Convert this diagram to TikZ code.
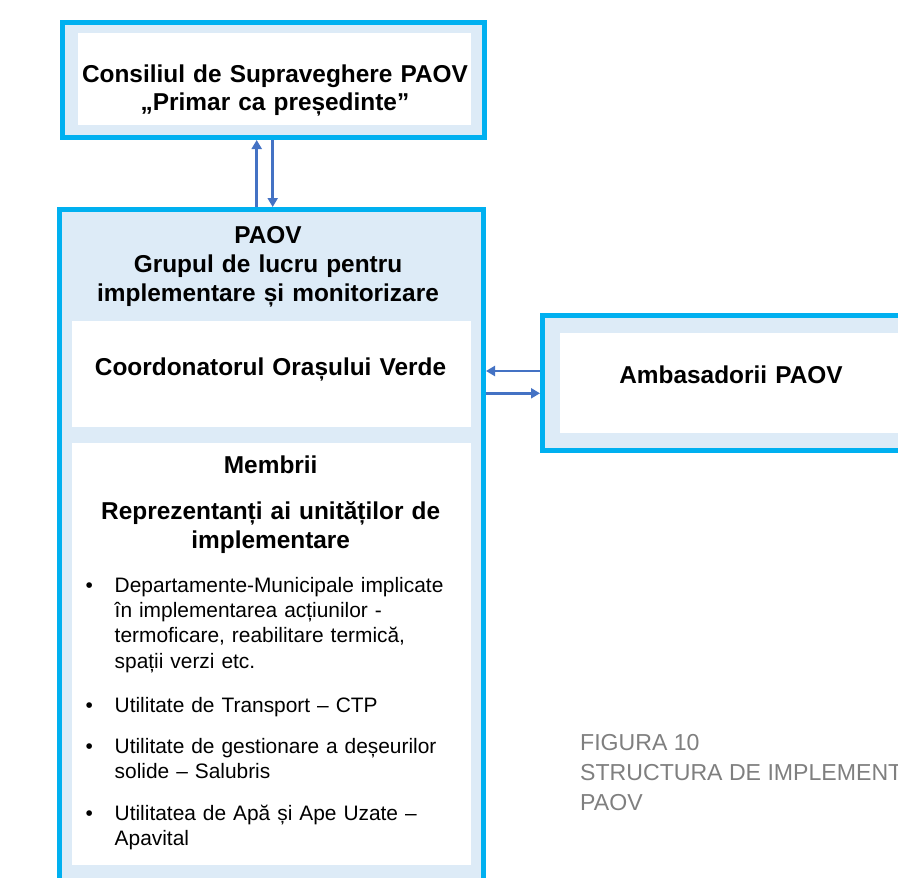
\documentclass[tikz,border=0pt]{standalone}
\usepackage{fontspec}
\setmainfont{Liberation Sans}
\usetikzlibrary{arrows.meta}
\definecolor{cyanb}{HTML}{00B0F0}
\definecolor{lblue}{HTML}{DDEBF7}
\definecolor{arrc}{HTML}{4472C4}
\definecolor{capgray}{HTML}{7F7F7F}
\tikzset{
  outerbox/.style={draw=cyanb, line width=5pt, fill=lblue, inner sep=0pt},
  whitebox/.style={fill=white, draw=none, inner sep=0pt, outer sep=0pt},
  boldtxt/.style={font=\fontsize{24.4}{29}\selectfont\bfseries, text width=440pt, align=center, inner sep=0pt, anchor=base},
  bodytxt/.style={font=\fontsize{20.9}{25.4}\selectfont, text width=360pt, align=left, inner sep=0pt, anchor=base west},
  bul/.style={font=\fontsize{20.9}{25.4}\selectfont, inner sep=0pt, anchor=base},
  captxt/.style={font=\fontsize{23.1}{30}\selectfont, text=capgray, inner sep=0pt, anchor=base west},
  arr/.style={draw=arrc, line width=2.8pt, -{Triangle[length=9pt,width=10pt]}}
}
\begin{document}
\begin{tikzpicture}[x=1pt,y=-1pt]
\useasboundingbox (0,0) rectangle (898,878);
\clip (0,0) rectangle (898,878);
\fill[white] (0,0) rectangle (898,878);

% top box
\node[outerbox, minimum width=422pt, minimum height=115pt] (topbox) at (273.5,80) {};
\node[whitebox, minimum width=393pt, minimum height=92pt] (topin) at (274.5,79) {};
\node[boldtxt, font=\fontsize{24.4}{28}\selectfont\bfseries] (toptxt) at (275,82) {Consiliul de Supraveghere PAOV\\„Primar ca președinte”};

% main box
\node[outerbox, minimum width=424pt, minimum height=690.5pt] (main) at (271.5,554.75) {};
\node[boldtxt] (maintxt) at (268,243.5) {PAOV\\Grupul de lucru pentru\\implementare și monitorizare};
\node[whitebox, minimum width=399pt, minimum height=106pt] (coord) at (271.5,374) {};
\node[boldtxt] (coordtxt) at (270.5,375) {Coordonatorul Orașului Verde};
\node[whitebox, minimum width=399pt, minimum height=422pt] (memb) at (271.5,654) {};
\node[boldtxt] (membtxt) at (270.7,473) {Membrii};
\node[boldtxt] (reptxt) at (270.7,519) {Reprezentanți ai unităților de\\implementare};

\node[bul] (b1) at (89.3,592) {•};
\node[bodytxt] (i1) at (114.5,592) {Departamente-Municipale implicate\\în implementarea acțiunilor -\\termoficare, reabilitare termică,\\spații verzi etc.};
\node[bul] (b2) at (89.3,712) {•};
\node[bodytxt] (i2) at (114.5,712) {Utilitate de Transport – CTP};
\node[bul] (b3) at (89.3,753) {•};
\node[bodytxt] (i3) at (114.5,753) {Utilitate de gestionare a deșeurilor\\solide – Salubris};
\node[bul] (b4) at (89.3,820) {•};
\node[bodytxt] (i4) at (114.5,820) {Utilitatea de Apă și Ape Uzate –\\Apavital};

% ambasadorii box
\node[outerbox, minimum width=457.5pt, minimum height=135pt] (amb) at (771.25,383) {};
\node[whitebox, minimum width=440pt, minimum height=100pt] (ambin) at (780,383) {};
\node[boldtxt] (ambtxt) at (731,383) {Ambasadorii PAOV};

% connectors
\coordinate (cu) at (256.7,0);
\coordinate (cd) at (272.7,0);
\coordinate (cl) at (0,371);
\coordinate (cr) at (0,393.3);
\draw[arr] (cu |- main.north) -- (cu |- topbox.south);
\draw[arr] (cd |- topbox.south) -- (cd |- main.north);
\draw[arr] (amb.west |- cl) -- (main.east |- cl);
\draw[arr] (main.east |- cr) -- (amb.west |- cr);

% caption
\node[captxt] (cap1) at (580,750) {FIGURA 10};
\node[captxt] (cap2) at (580,780) {STRUCTURA DE IMPLEMENTARE};
\node[captxt] (cap3) at (580,810) {PAOV};
\end{tikzpicture}
\end{document}
